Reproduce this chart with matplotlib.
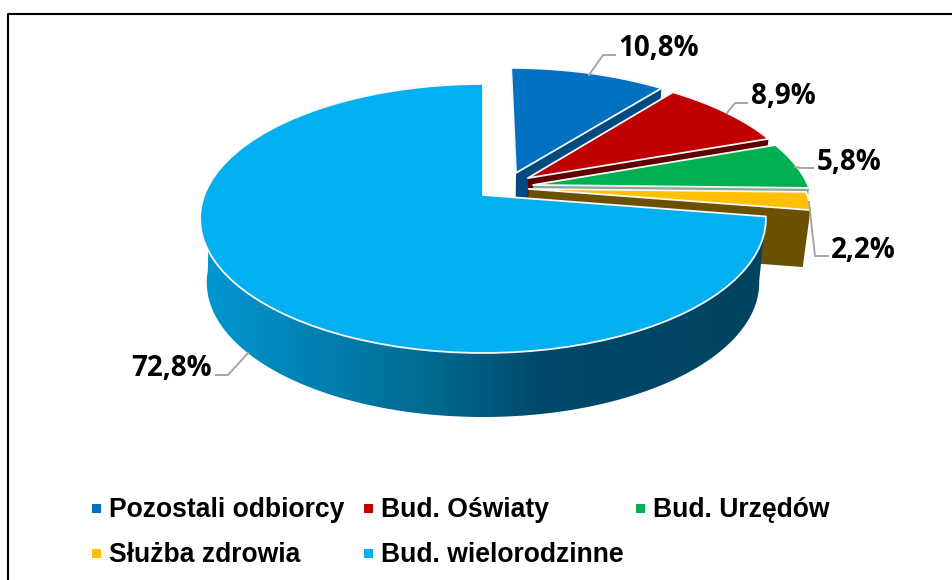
import numpy as np
import matplotlib
matplotlib.use("Agg")
import matplotlib.pyplot as plt
from matplotlib.patches import Polygon, Rectangle
from matplotlib.colors import LinearSegmentedColormap

names = ["Pozostali odbiorcy", "Bud. Oświaty", "Bud. Urzędów", "Służba zdrowia", "Bud. wielorodzinne"]
values = [10.8, 8.9, 5.8, 2.2, 72.8]
labels = ["10,8%", "8,9%", "5,8%", "2,2%", "72,8%"]
colors = ["#0070c0", "#c00000", "#00b050", "#ffc000", "#00b0f0"]
wall_colors = ["#004a80", "#5e0000", "#8aa89a", "#6a5000", "#004a68"]

# how far each slice is pulled out, in the plane of the pie
offsets = [(0.122, 0.174), (0.165, 0.133), (0.182, 0.078), (0.165, 0.047), (0, 0)]
wall_y0 = [259, 259, 259, 252, 259]
label_xy = [(659, 48), (783, 97), (849, 163), (863, 251), (172, 368)]
leaders = [[(589, 75), (603, 55), (615, 55)],
           [(727, 113), (735, 103), (747, 103)],
           [(795, 167), (802, 168), (813, 168)],
           [(809, 202), (815, 256), (828, 256)],
           [(248, 353), (228, 375), (216, 375)]]
legend_xy = [(92, 517), (364, 517), (636, 517), (92, 562), (364, 562)]

K = 0.1747  # perspective


def project(theta, off, x0=483, y0=195, rx=278.6, ry=130.4):
    u = np.sin(theta) + off[0]
    v = np.cos(theta) + off[1]
    w = 1 + K * v
    return np.column_stack([x0 + rx * u / w, y0 - ry * v / w])


def apex(off, x0=483, y0=195, rx=278.6, ry=130.4):
    w = 1 + K * off[1]
    return np.array([[x0 + rx * off[0] / w, y0 - ry * off[1] / w]])


fig = plt.figure(figsize=(9.52, 5.8), dpi=100)
ax = fig.add_axes([0, 0, 1, 1])

edges = np.cumsum([0] + values) / sum(values) * 2 * np.pi

for i in range(len(values)):
    arc = np.linspace(edges[i], edges[i + 1], 80)
    off = offsets[i]
    low = dict(x0=483, y0=wall_y0[i], rx=272, ry=130.4)
    if i < 4:
        # cut wall at the clockwise end of the slice
        t = np.array([edges[i + 1]])
        wall = np.vstack([apex(off), project(t, off), project(t, off, **low), apex(off, **low)])
        ax.add_patch(Polygon(wall, closed=True, fc=wall_colors[i], ec="none", zorder=2 + i))
    else:
        # outer wall of the big slice, shaded left to right
        t_top = np.linspace(edges[i], np.radians(275), 120)
        t_low = np.linspace(edges[i], np.radians(265), 120)
        wall = np.vstack([project(t_top, off), project(t_low[::-1], off, **low)])
        clip = Polygon(wall, closed=True, fc="none", ec="none")
        ax.add_patch(clip)
        shade = LinearSegmentedColormap.from_list(
            "side", [(0, "#0098d2"), (0.42, "#00688e"), (0.6, "#00486a"), (1, "#00445f")])
        img = ax.imshow(np.linspace(0, 1, 256)[None, :], cmap=shade, aspect="auto",
                        extent=(200, 770, 420, 200), zorder=2 + i)
        img.set_clip_path(clip)
    top = np.vstack([apex(off), project(arc, off)])
    ax.add_patch(Polygon(top, closed=True, fc=colors[i], ec="#f7f7f7", lw=1.3,
                         joinstyle="round", zorder=2.5 + i))

for pts in leaders:
    pts = np.array(pts)
    ax.plot(pts[:, 0], pts[:, 1], color="#a6a6a6", lw=1.4, zorder=9)

for txt, (x, y) in zip(labels, label_xy):
    ax.text(x, y, txt, ha="center", va="center", fontsize=20, fontweight="bold",
            family="Open Sans", color="black", zorder=10)

# chart frame, only left and top are inside the picture
ax.plot([7.5, 7.5, 952], [580, 13.5, 13.5], color="black", lw=1.5, zorder=1)

for name, col, (x, y) in zip(names, colors, legend_xy):
    ax.add_patch(Rectangle((x, y - 13), 8.5, 8.5, fc=col, ec="none", zorder=10))
    ax.text(x + 17, y, name, ha="left", va="baseline", fontsize=19.1, fontweight="bold",
            family="Liberation Sans", color="black", zorder=10)

ax.set_xlim(0, 952)
ax.set_ylim(580, 0)
ax.axis("off")
fig.savefig("out.png", dpi=100)
